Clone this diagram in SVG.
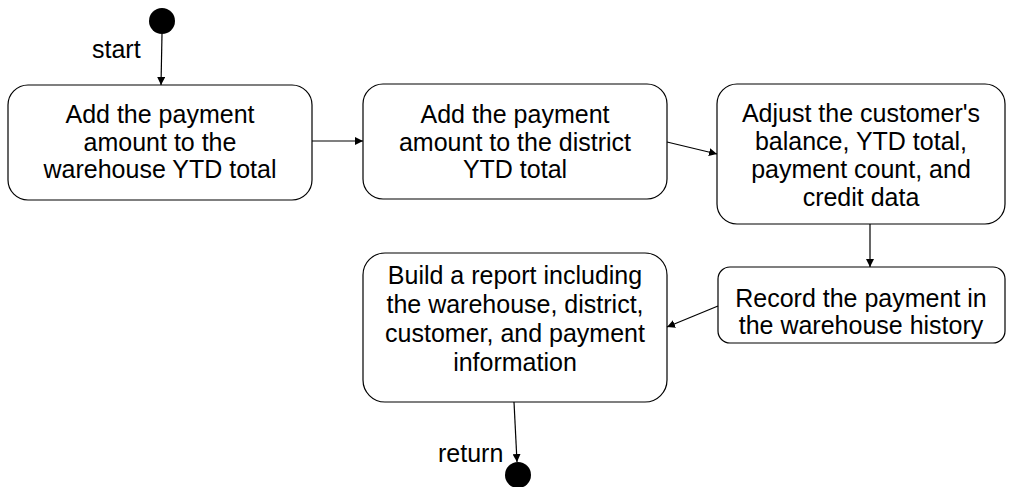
<svg xmlns="http://www.w3.org/2000/svg" width="1013" height="487" viewBox="0 0 1013 487">
<style>
.box{fill:#fff;stroke:#000;stroke-width:1.2}
.t{font-family:"Liberation Sans",Arial,sans-serif;font-size:25px;fill:#000;text-anchor:middle}
.lbl{font-family:"Liberation Sans",Arial,sans-serif;font-size:25px;fill:#000}
.c{stroke:#000;stroke-width:1.2;fill:none;marker-end:url(#ah)}
</style>
<defs>
<marker id="ah" viewBox="0 0 10 10" refX="10" refY="5" markerWidth="8" markerHeight="8" markerUnits="userSpaceOnUse" orient="auto">
<path d="M0,0 L10,5 L0,10 z" fill="#000"/>
</marker>
</defs>
<g id="start"><circle cx="162" cy="21" r="13" fill="#000"/></g>
<g id="end"><circle cx="518" cy="475" r="13" fill="#000"/></g>
<g id="n1">
<rect class="box" x="8" y="85" width="304" height="115" rx="20"/>
<text class="t" x="160" y="123">Add the payment</text>
<text class="t" x="160" y="150.5">amount to the</text>
<text class="t" x="160" y="178">warehouse YTD total</text>
</g>
<g id="n2">
<rect class="box" x="363" y="84" width="304" height="115" rx="20"/>
<text class="t" x="515" y="123">Add the payment</text>
<text class="t" x="515" y="150.5">amount to the district</text>
<text class="t" x="515" y="178">YTD total</text>
</g>
<g id="n3">
<rect class="box" x="717" y="84" width="288" height="140" rx="20"/>
<text class="t" x="861" y="122">Adjust the customer's</text>
<text class="t" x="861" y="150">balance, YTD total,</text>
<text class="t" x="861" y="178">payment count, and</text>
<text class="t" x="861" y="206">credit data</text>
</g>
<g id="n4">
<rect class="box" x="718" y="267" width="287" height="76" rx="12"/>
<text class="t" x="861" y="307">Record the payment in</text>
<text class="t" x="861" y="334">the warehouse history</text>
</g>
<g id="n5">
<rect class="box" x="363" y="253" width="304" height="149" rx="22"/>
<text class="t" x="515" y="284">Build a report including</text>
<text class="t" x="515" y="313">the warehouse, district,</text>
<text class="t" x="515" y="342">customer, and payment</text>
<text class="t" x="515" y="371">information</text>
</g>
<g id="connectors">
<line class="c" x1="162" y1="34" x2="161" y2="85"/>
<line class="c" x1="312" y1="141" x2="363" y2="141"/>
<line class="c" x1="667" y1="142" x2="717" y2="154"/>
<line class="c" x1="870" y1="224" x2="870" y2="267"/>
<line class="c" x1="718" y1="306" x2="667" y2="327"/>
<line class="c" x1="514" y1="402" x2="517" y2="462"/>
<text class="lbl" x="92" y="58">start</text>
<text class="lbl" x="438" y="462">return</text>
</g>
</svg>
